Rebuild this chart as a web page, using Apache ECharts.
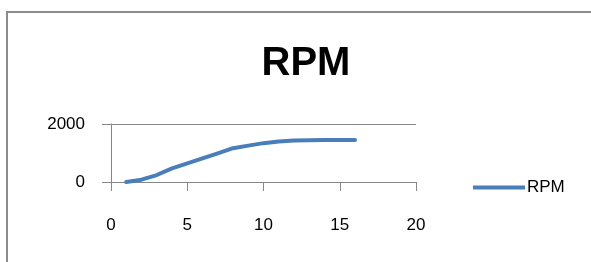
<!DOCTYPE html>
<html>
<head>
<meta charset="utf-8">
<script src="https://cdn.jsdelivr.net/npm/echarts@6/dist/echarts.min.js"></script>
<style>
  html, body { margin: 0; padding: 0; background: #fff; }
  #main { width: 591px; height: 262px; }
</style>
</head>
<body>
<div id="main"></div>
<script>
// 数据
var xValues = [1, 2, 3, 4, 5, 6, 7, 8, 9, 10, 11, 12, 13, 14, 15, 16];
var rpmValues = [0, 80, 240, 470, 640, 815, 990, 1165, 1255, 1340, 1395, 1430, 1440, 1445, 1450, 1450];
var seriesName = 'RPM';

var chart = echarts.init(document.getElementById('main'), null, { renderer: 'canvas' });

var points = xValues.map(function (x, i) { return [x, rpmValues[i]]; });

var option = {
  backgroundColor: '#fff',
  animation: false,
  title: {
    text: 'RPM',
    left: 301,
    top: 39,
    textAlign: 'center',
    textStyle: {
      fontFamily: 'Liberation Sans',
      fontSize: 40,
      fontWeight: 'bold',
      color: '#000'
    }
  },
  legend: {
    data: [seriesName],
    left: 468,
    top: 174,
    icon: 'rect',
    itemWidth: 52,
    itemHeight: 4,
    itemGap: 3,
    textStyle: {
      fontFamily: 'Liberation Sans',
      fontSize: 17,
      color: '#000',
      padding: [0, 0, 0, -3]
    }
  },
  grid: {
    left: 111,
    right: 175,
    top: 124,
    bottom: 80,
    containLabel: false
  },
  xAxis: {  // x轴
    type: 'value',
    min: 0,
    max: 20,
    interval: 5,
    axisLine: { show: true, lineStyle: { color: '#868686', width: 1 } },
    axisTick: { show: true, inside: false, length: 9, lineStyle: { color: '#868686' } },
    axisLabel: {
      margin: 35,
      fontFamily: 'Liberation Sans',
      fontSize: 17,
      color: '#000'
    },
    splitLine: { show: false }
  },
  yAxis: {  // y轴
    type: 'value',
    min: 0,
    max: 2000,
    interval: 2000,
    axisLine: { show: true, lineStyle: { color: '#868686', width: 1 } },
    axisTick: { show: true, inside: false, length: 9, lineStyle: { color: '#868686' } },
    axisLabel: {
      margin: 26,
      fontFamily: 'Liberation Sans',
      fontSize: 17,
      color: '#000',
      formatter: function (v) { return String(v); }
    },
    splitLine: { show: true, lineStyle: { color: '#868686', width: 1 } }
  },
  series: [
    {
      name: seriesName,
      type: 'line',
      data: points,
      showSymbol: false,
      smooth: false,
      color: '#4a7ebb',
      lineStyle: { width: 4, color: '#4a7ebb', cap: 'round', join: 'round' }
    }
  ],
  graphic: [
    {
      type: 'polyline',
      shape: { points: [[7, 262], [7, 12], [591, 12]] },
      style: { stroke: '#8c8c8c', lineWidth: 2, fill: null },
      silent: true
    }
  ]
};

chart.setOption(option);
</script>
</body>
</html>
